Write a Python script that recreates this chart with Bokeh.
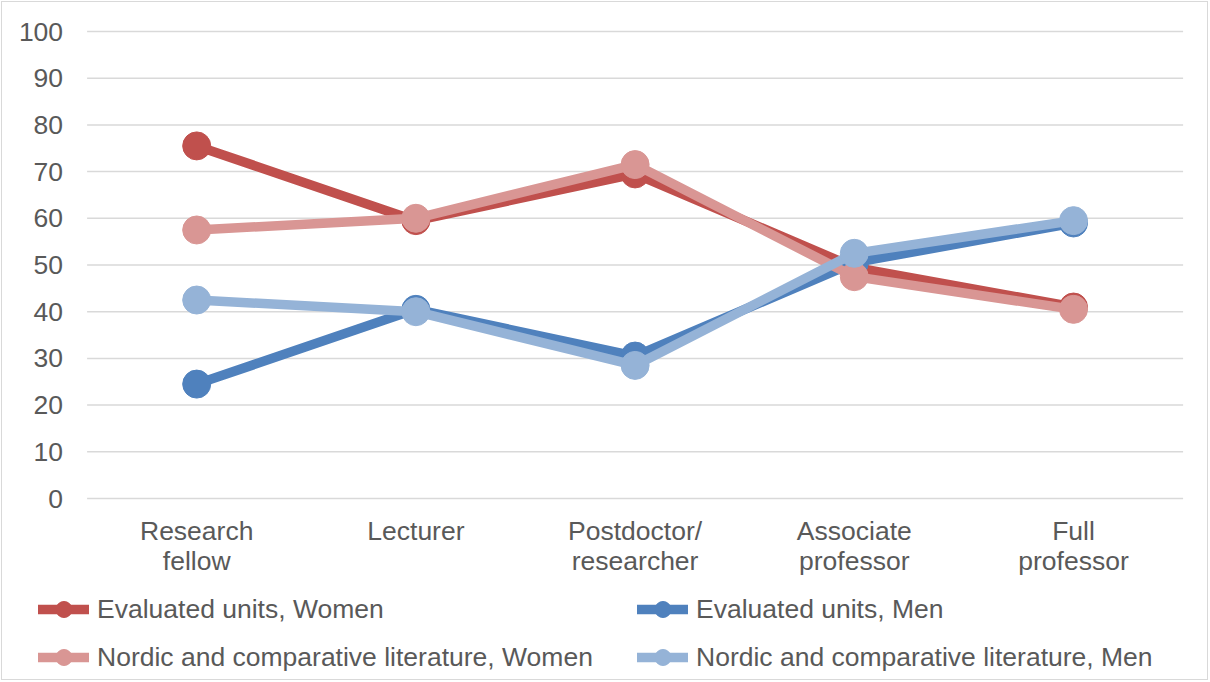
from bokeh.plotting import figure
from bokeh.models import Range1d, Legend, LegendItem
from bokeh.core.properties import value
from bokeh.embed import file_html
from bokeh.resources import INLINE

categories = ["Research\nfellow", "Lecturer", "Postdoctor/\nresearcher", "Associate\nprofessor", "Full\nprofessor"]

eval_women = [75.5, 59.5, 69.5, 49.5, 41.0]
eval_men = [24.5, 40.5, 30.5, 50.5, 59.0]
nordic_women = [57.5, 60.0, 71.5, 47.5, 40.5]
nordic_men = [42.5, 40.0, 28.5, 52.5, 59.5]

series_names = ["Evaluated units, Women", "Evaluated units, Men",
                "Nordic and comparative literature, Women", "Nordic and comparative literature, Men"]
series_values = [eval_women, eval_men, nordic_women, nordic_men]
series_colors = ["#C0504D", "#4F81BD", "#D99694", "#95B3D7"]

y_ticks = [0, 10, 20, 30, 40, 50, 60, 70, 80, 90, 100]
y_labels = [str(t) for t in y_ticks]

FONT = "Liberation Sans"
FS = "26.5px"
TXT = "#595959"
GRID = "#D9D9D9"

W, H = 1207, 679
# layout of the plotting area inside the canvas (pixels)
PLOT_LEFT, PX_PER_CAT = 84.6, 219.2
PLOT_ZERO_Y, PX_PER_UNIT = 496.0, 4.67

n = len(categories)
x_pos = [i + 0.5 for i in range(n)]

x_range = Range1d(-PLOT_LEFT / PX_PER_CAT, (W - PLOT_LEFT) / PX_PER_CAT)
y_range = Range1d(-(H - PLOT_ZERO_Y) / PX_PER_UNIT, PLOT_ZERO_Y / PX_PER_UNIT)

p = figure(width=W, height=H, x_range=x_range, y_range=y_range,
           x_axis_type=None, y_axis_type=None,
           output_backend="svg", toolbar_location=None,
           min_border_left=0, min_border_right=0, min_border_top=0, min_border_bottom=0)
p.styles = {"border": "1px solid #D9D9D9", "margin": "1px"}
p.grid.visible = False
p.outline_line_color = None
p.background_fill_color = "white"
p.border_fill_color = "white"

# horizontal gridlines spanning the category range
p.segment(x0=[0] * len(y_ticks), x1=[n] * len(y_ticks), y0=y_ticks, y1=y_ticks,
          line_color=GRID, line_width=1.5)

# value axis labels
p.text(x=[0] * len(y_ticks), y=y_ticks, text=y_labels, x_offset=-24,
       text_align="right", text_baseline="middle",
       text_font=value(FONT), text_font_size=FS, text_color=TXT)

# category labels
p.text(x=x_pos, y=[0] * n, text=categories, y_offset=17,
       text_align="center", text_baseline="top", text_line_height=1.0,
       text_font=value(FONT), text_font_size=FS, text_color=TXT)

LW = 9.5
MS = 28

items = []
for name, vals, col in zip(series_names, series_values, series_colors):
    l = p.line(x_pos, vals, line_color=col, line_width=LW, line_join="round", line_cap="round")
    s = p.scatter(x_pos, vals, marker="circle", size=MS, fill_color=col, line_color=col)
    items.append(LegendItem(label=name, renderers=[l, s]))

legend = Legend(items=items, location=(36, 4), orientation="horizontal", ncols=2,
                glyph_width=51, glyph_height=40, label_standoff=8, spacing=8, label_width=532,
                padding=0, margin=0, border_line_color=None, background_fill_alpha=0,
                label_text_font=FONT, label_text_font_size=FS, label_text_color=TXT)
p.add_layout(legend)

open("out.html", "w").write(file_html(p, INLINE))
